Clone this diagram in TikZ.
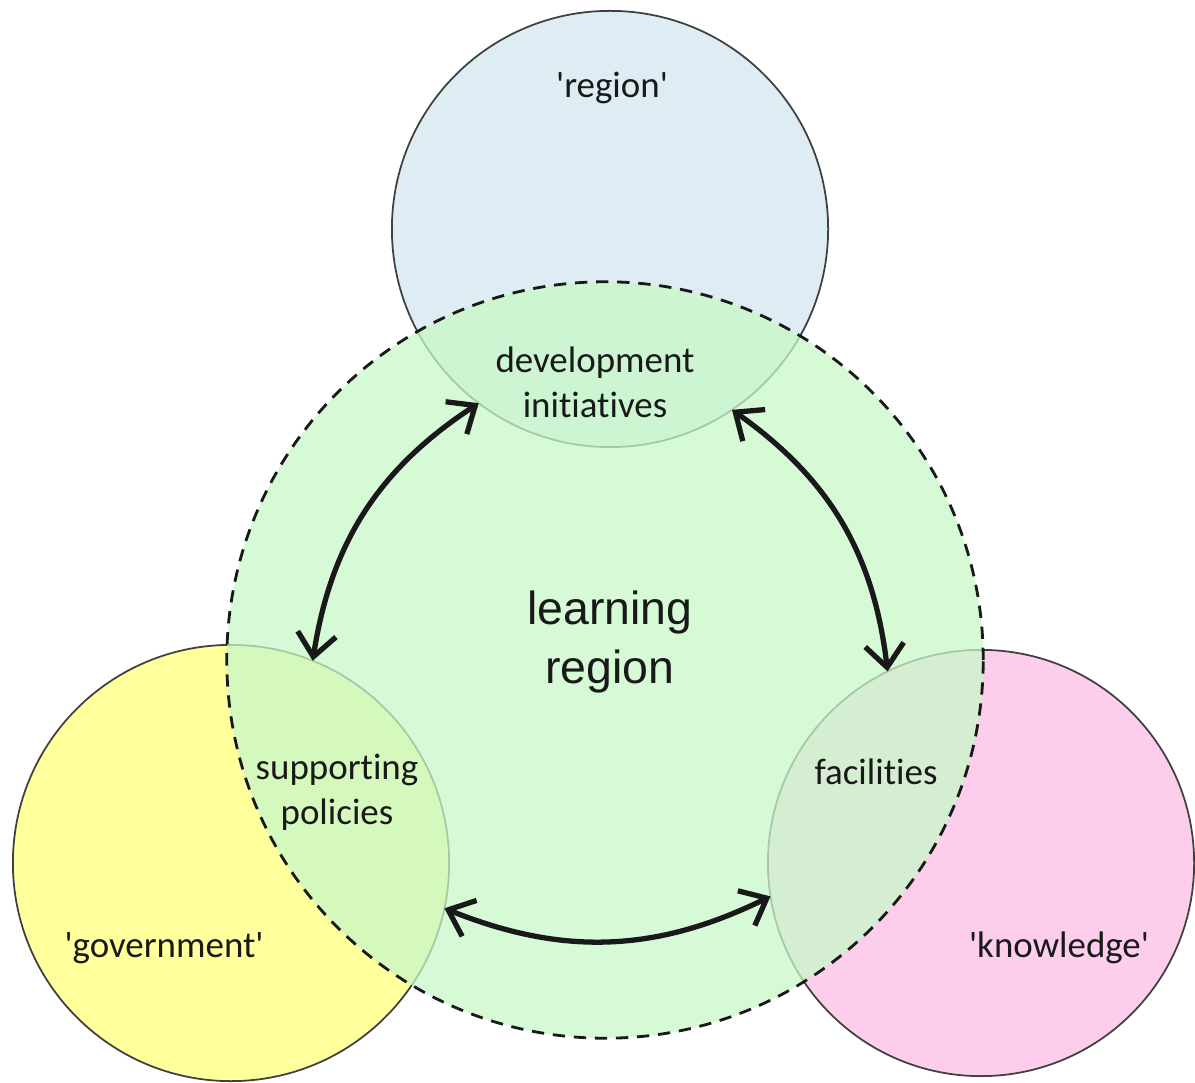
\documentclass[tikz,border=0pt]{standalone}
\usepackage{fontspec}
\setmainfont{Carlito}[Ligatures=NoCommon]
\newfontfamily\bigfont{Liberation Sans}
\usepackage{tikz}
\usetikzlibrary{arrows.meta}
\definecolor{regionBlue}{RGB}{222,237,243}
\definecolor{govYellow}{RGB}{255,255,155}
\definecolor{knowPink}{RGB}{253,205,236}
\definecolor{learnGreen}{RGB}{200,248,200}
\definecolor{lineGray}{gray}{0.25}
\definecolor{mainBlack}{gray}{0.1}

\begin{document}
\begin{tikzpicture}[x=0.01cm, y=-0.01cm, >={Straight Barb[length=6.5pt, width=11pt]},
    disc/.style={circle, draw=lineGray, line width=0.5pt, minimum size=4.36cm, inner sep=0pt, outer sep=0pt},
    lbl/.style={font=\fontsize{10.5}{12.8}\selectfont, text=mainBlack, align=center},
    link/.style={<->, line width=1.5pt, mainBlack}]
    \useasboundingbox (0,0) rectangle (1195,1083);

    % the three outer fields
    \node[disc, fill=regionBlue] (reg) at (610,229) {};
    \node[disc, fill=govYellow] (gov) at (231,863) {};
    \node[disc, fill=knowPink, minimum size=4.26cm] (know) at (981,863) {};

    % learning region on top
    \node[circle, minimum size=7.56cm, inner sep=0pt, outer sep=0pt, fill=learnGreen, fill opacity=0.75,
        draw=mainBlack, draw opacity=1, dash pattern=on 3.5pt off 2.5pt, line width=0.8pt] (learn) at (605,660) {};

    \draw[link] (reg.233) to[bend right=24] (gov.68);
    \draw[link] (reg.304) to[bend left=24] (know.116);
    \draw[link] (gov.-12) to[bend right=24] (know.189);

    \node[lbl] (regtxt) at (612,88) {\textquotesingle region\textquotesingle};
    \node[lbl] (devtxt) at (595,382) {development\\initiatives};
    \node[lbl] (suptxt) at (337,792) {supporting\\policies};
    \node[lbl] (factxt) at (876,772) {facilities};
    \node[lbl] (govtxt) at (164,948) {\textquotesingle government\textquotesingle};
    \node[lbl] (knowtxt) at (1059,948) {\textquotesingle knowledge\textquotesingle};
    \node[lbl, font=\bigfont\fontsize{13.2}{16.5}\selectfont] (learntxt) at (610,642) {learning\\region};
\end{tikzpicture}
\end{document}
